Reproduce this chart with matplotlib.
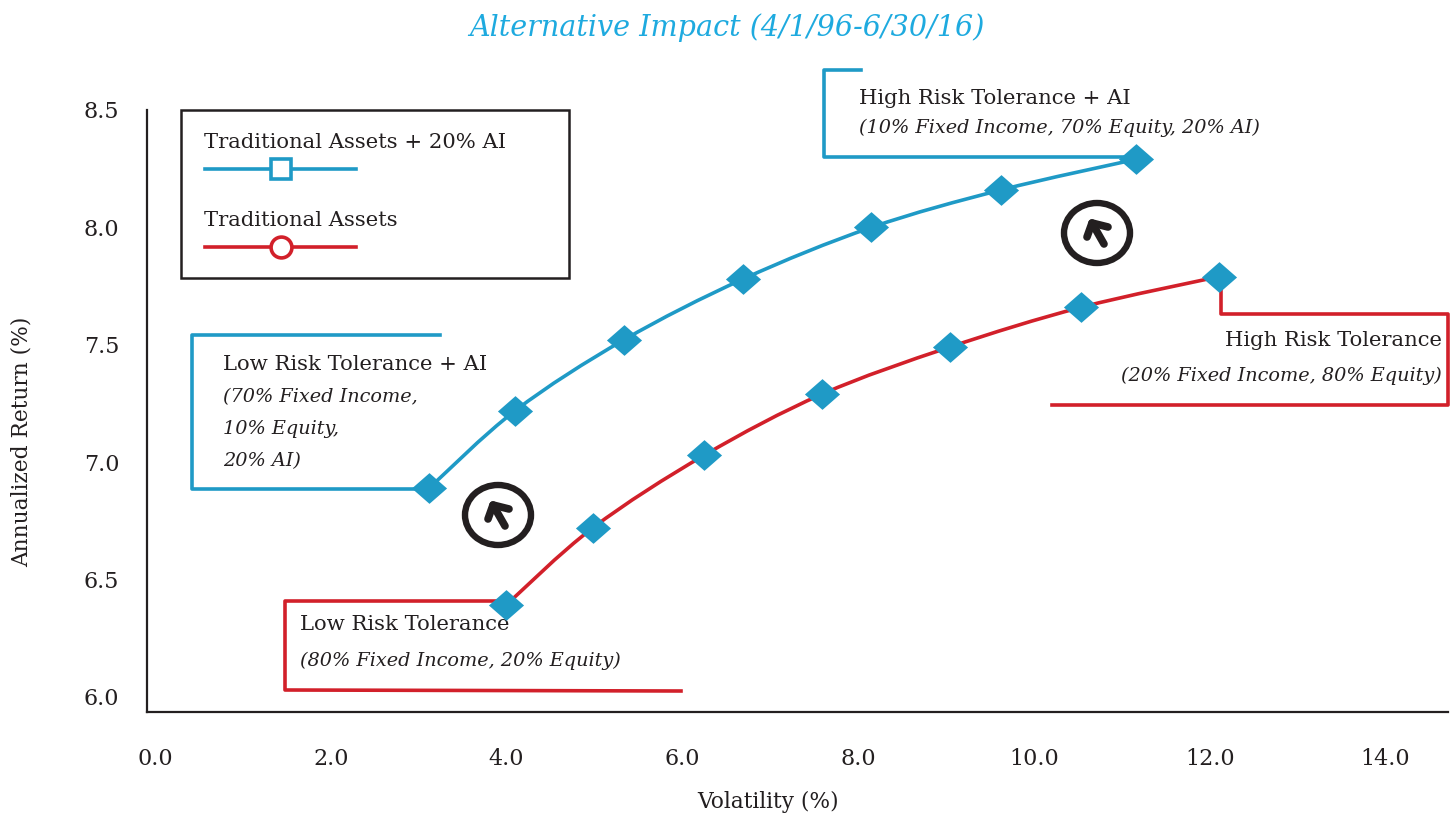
import matplotlib
matplotlib.use("Agg")
import matplotlib.pyplot as plt
from matplotlib.patches import Ellipse, PathPatch, Rectangle
from matplotlib.path import Path

plt.rcParams["font.family"] = ["DejaVu Serif"]

W, H = 1452, 815
BLUE = "#1F9AC6"
RED = "#D2202A"
DARK = "#231F20"

volatility_ai = [3.12, 4.10, 5.33, 6.69, 8.15, 9.63, 11.16]
returns_ai = [6.89, 7.22, 7.52, 7.78, 8.00, 8.16, 8.29]
volatility_trad = [3.99, 4.98, 6.25, 7.59, 9.04, 10.54, 12.10]
returns_trad = [6.39, 6.72, 7.03, 7.29, 7.49, 7.66, 7.79]

x_ticks = [0, 2, 4, 6, 8, 10, 12, 14]
y_ticks = [6.0, 6.5, 7.0, 7.5, 8.0, 8.5]

# losange un peu plus large que haut
DIAMOND = [(-1, 0), (0, 0.875), (1, 0), (0, -0.875), (-1, 0)]


def smooth_path(xs, ys):
    # courbe lisse qui passe par les points (Catmull-Rom vers Bezier)
    verts = [(xs[0], ys[0])]
    codes = [Path.MOVETO]
    n = len(xs)
    for i in range(n - 1):
        x0, y0 = xs[max(i - 1, 0)], ys[max(i - 1, 0)]
        x1, y1 = xs[i], ys[i]
        x2, y2 = xs[i + 1], ys[i + 1]
        x3, y3 = xs[min(i + 2, n - 1)], ys[min(i + 2, n - 1)]
        verts.append((x1 + (x2 - x0) / 6, y1 + (y2 - y0) / 6))
        verts.append((x2 - (x3 - x1) / 6, y2 - (y3 - y1) / 6))
        verts.append((x2, y2))
        codes += [Path.CURVE4, Path.CURVE4, Path.CURVE4]
    return Path(verts, codes)


fig = plt.figure(figsize=(W / 100, H / 100), dpi=100)

# axe principal, les limites suivent les graduations de l'image
ax = fig.add_axes([147 / W, (H - 712) / H, (1448 - 147) / W, (712 - 110) / H])
ax.set_xlim(-0.091, 14.71)
ax.set_ylim(5.936, 8.49)
for side in ["top", "right"]:
    ax.spines[side].set_visible(False)
for side in ["left", "bottom"]:
    ax.spines[side].set_linewidth(1.6)
    ax.spines[side].set_color(DARK)
ax.set_xticks(x_ticks)
ax.set_xticklabels([f"{v:.1f}" for v in x_ticks])
ax.set_yticks(y_ticks)
ax.set_yticklabels([f"{v:.1f}" for v in y_ticks])
ax.tick_params(axis="x", length=0, pad=26, labelsize=16, labelcolor=DARK)
ax.tick_params(axis="y", length=0, pad=20, labelsize=16, labelcolor=DARK)
ax.patch.set_alpha(0)

# calque en pixels pour les encadres et le texte
ov = fig.add_axes([0, 0, 1, 1], zorder=0)
ov.set_xlim(0, W)
ov.set_ylim(H, 0)
ov.axis("off")
ax.set_zorder(1)

for path, color in [(smooth_path(volatility_ai, returns_ai), BLUE),
                    (smooth_path(volatility_trad, returns_trad), RED)]:
    ax.add_patch(PathPatch(path, fill=False, edgecolor=color, linewidth=2.6))
ax.scatter(volatility_ai + volatility_trad, returns_ai + returns_trad,
           marker=DIAMOND, s=640, color=BLUE, linewidths=0, zorder=5, clip_on=False)

ov.text(727, 28, "Alternative Impact (4/1/96-6/30/16)", color="#1EAADF",
        fontsize=20.6, style="italic", ha="center", va="center")
ov.text(768, 802, "Volatility (%)", color=DARK, fontsize=15.7, ha="center", va="center")
ov.text(22, 442, "Annualized Return (%)", color=DARK, fontsize=15.7,
        rotation=90, ha="center", va="center")

# legende
ov.add_patch(Rectangle((181, 110), 388, 168, fill=False, edgecolor=DARK, linewidth=1.8))
ov.text(204, 142, "Traditional Assets + 20% AI", color=DARK, fontsize=15.25, va="center")
ov.plot([205, 356], [169, 169], color=BLUE, linewidth=2.6)
ov.plot([281], [169], marker="s", ms=15, mfc="white", mec=BLUE, mew=2.6)
ov.text(204, 220, "Traditional Assets", color=DARK, fontsize=15.25, va="center")
ov.plot([205, 356], [247, 247], color=RED, linewidth=2.6)
ov.plot([281], [247], marker="o", ms=15, mfc="white", mec=RED, mew=2.6)

# encadres
ov.plot([861, 824, 824, 1136], [70, 70, 157, 157], color=BLUE, linewidth=2.6)
ov.plot([1221, 1221, 1448, 1448, 1052], [278, 314, 314, 405, 405], color=RED, linewidth=2.6)
ov.plot([440, 192, 192, 429], [335, 335, 489, 489], color=BLUE, linewidth=2.6)
ov.plot([505, 285, 285, 681], [601, 601, 690, 691], color=RED, linewidth=2.6)

ov.text(859, 98, "High Risk Tolerance + AI", color=DARK, fontsize=15.25, va="center")
ov.text(859, 128, "(10% Fixed Income, 70% Equity, 20% AI)", color=DARK, fontsize=13.85,
        style="italic", va="center")
ov.text(1442, 341, "High Risk Tolerance", color=DARK, fontsize=15.25, ha="right", va="center")
ov.text(1442, 376, "(20% Fixed Income, 80% Equity)", color=DARK, fontsize=13.85,
        style="italic", ha="right", va="center")
ov.text(223, 365, "Low Risk Tolerance + AI", color=DARK, fontsize=15.25, va="center")
ov.text(223, 397, "(70% Fixed Income,", color=DARK, fontsize=13.85, style="italic", va="center")
ov.text(223, 429, "10% Equity,", color=DARK, fontsize=13.85, style="italic", va="center")
ov.text(223, 461, "20% AI)", color=DARK, fontsize=13.85, style="italic", va="center")
ov.text(300, 625, "Low Risk Tolerance", color=DARK, fontsize=15.25, va="center")
ov.text(300, 661, "(80% Fixed Income, 20% Equity)", color=DARK, fontsize=13.85,
        style="italic", va="center")

# petites fleches dans un cercle
for cx, cy in [(498, 515), (1097, 233)]:
    ov.add_patch(Ellipse((cx, cy), 66, 60, fill=False, edgecolor=DARK, linewidth=4.6))
    ov.plot([cx + 7, cx - 5], [cy + 11, cy - 10], color=DARK, linewidth=5.5, solid_capstyle="round")
    ov.plot([cx - 10, cx - 5, cx + 11], [cy + 4, cy - 10, cy - 6], color=DARK, linewidth=5.5,
            solid_capstyle="round", solid_joinstyle="round")

fig.savefig("out.png", dpi=100)
